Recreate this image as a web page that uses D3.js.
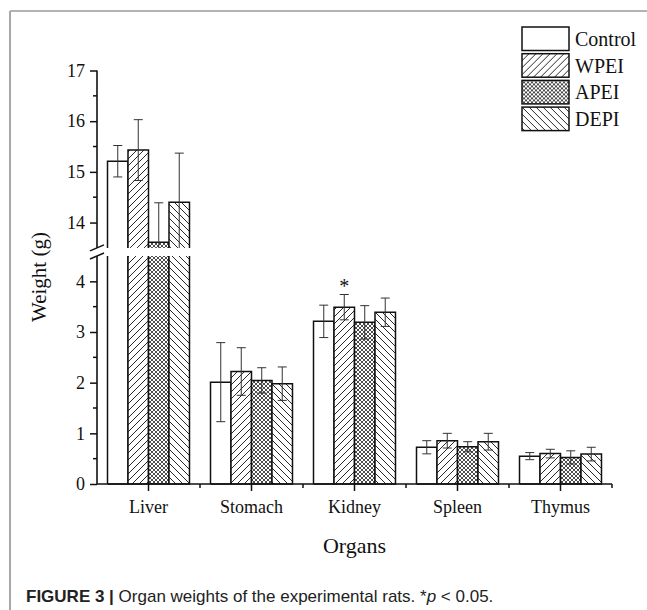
<!DOCTYPE html>
<html>
<head>
<meta charset="utf-8">
<script src="https://cdn.jsdelivr.net/npm/d3@7/dist/d3.min.js"></script>
<style>
  html, body { margin: 0; padding: 0; background: #fff; }
  svg { display: block; }
</style>
</head>
<body>
<svg id="chart" width="647" height="610"></svg>
<script>
// Organ weights (g), mean and SD per treatment group
const organs = ["Liver", "Stomach", "Kidney", "Spleen", "Thymus"];
const groups = ["Control", "WPEI", "APEI", "DEPI"];
const controlMean = [15.21, 2.01, 3.21, 0.725, 0.55];
const controlSD   = [0.31, 0.78, 0.32, 0.13, 0.07];
const wpeiMean    = [15.43, 2.22, 3.49, 0.855, 0.60];
const wpeiSD      = [0.60, 0.47, 0.25, 0.145, 0.085];
const apeiMean    = [13.61, 2.045, 3.19, 0.735, 0.525];
const apeiSD      = [0.78, 0.25, 0.33, 0.10, 0.13];
const depiMean    = [14.40, 1.98, 3.39, 0.835, 0.59];
const depiSD      = [0.97, 0.33, 0.28, 0.165, 0.135];
// significance marks (*p < 0.05): organ and group pairs
const starOrgans = ["Kidney"];
const starGroups = ["WPEI"];
// axis ticks for the two segments of the broken y axis
const upperTicks = [14, 15, 16, 17];
const lowerTicks = [0, 1, 2, 3, 4];
const upperDomain = [13.5, 17];
const lowerDomain = [0, 4.5];

const means = [controlMean, wpeiMean, apeiMean, depiMean];
const sds = [controlSD, wpeiSD, apeiSD, depiSD];
const rows = [];
organs.forEach((o, i) => groups.forEach((g, j) => rows.push({
  organ: o, group: g, mean: means[j][i], sd: sds[j][i]
})));

const svg = d3.select("#chart");
const serif = "'Liberation Serif', 'Times New Roman', serif";
const sans = "'Liberation Sans', Arial, sans-serif";

// page frame
svg.append("line").attr("x1", 10).attr("x2", 647).attr("y1", 11).attr("y2", 11)
  .attr("stroke", "#9a9a9a").attr("stroke-width", 1.5);
svg.append("line").attr("x1", 10).attr("x2", 10).attr("y1", 11).attr("y2", 610)
  .attr("stroke", "#a8a8a8").attr("stroke-width", 2);

// fill patterns
const defs = svg.append("defs");
const hatch = (id, d, size, w) => {
  const p = defs.append("pattern").attr("id", id).attr("patternUnits", "userSpaceOnUse")
    .attr("width", size).attr("height", size);
  p.append("rect").attr("width", size).attr("height", size).attr("fill", "#fff");
  p.append("path").attr("d", d).attr("stroke", "#111").attr("stroke-width", w).attr("fill", "none");
};
hatch("pWPEI", "M0,7 L7,0 M-2,2 L2,-2 M5,9 L9,5", 7, 0.9);
hatch("pDEPI", "M0,0 L7,7 M-2,5 L2,9 M5,-2 L9,2", 7, 0.9);
hatch("pAPEI", "M0,0 L4,4 M0,4 L4,0 M-1,1 L1,-1 M3,5 L5,3 M-1,3 L1,5 M3,-1 L5,1", 4, 0.75);
const fills = { Control: "#fff", WPEI: "url(#pWPEI)", APEI: "url(#pAPEI)", DEPI: "url(#pDEPI)" };

// scales
const x = d3.scaleBand().domain(organs).range([97, 612]).paddingInner(0.204).paddingOuter(0.102);
const xs = d3.scaleBand().domain(groups).range([0, x.bandwidth()]);
const yUp = d3.scaleLinear().domain(upperDomain).range([247.9, 70.5]);
const yLo = d3.scaleLinear().domain(lowerDomain).range([484, 256]);

function drawSegment(y, dom, isBottom) {
  const [lo, hi] = dom;
  const g = svg.append("g");
  rows.filter(d => d.mean > lo).forEach(d => {
    const x0 = x(d.organ) + xs(d.group), x1 = x0 + xs.bandwidth();
    const top = Math.min(d.mean, hi);
    const yt = y(top), yb = y(lo);
    g.append("rect").attr("x", x0).attr("y", yt).attr("width", x1 - x0).attr("height", yb - yt)
      .attr("fill", fills[d.group]);
    let p = `M${x0},${yb} L${x0},${yt}`;
    p += d.mean <= hi ? ` L${x1},${yt}` : ` M${x1},${yt}`;
    p += ` L${x1},${yb}`;
    if (isBottom) p += ` L${x0},${yb}`;
    g.append("path").attr("d", p).attr("fill", "none").attr("stroke", "#111").attr("stroke-width", 1.5);
  });
  // error bars, clipped to this segment
  rows.forEach(d => {
    const a = d.mean - d.sd, b = d.mean + d.sd;
    if (b < lo || a > hi) return;
    const cx = x(d.organ) + xs(d.group) + xs.bandwidth() / 2;
    const ya = y(Math.max(a, lo)), yb = y(Math.min(b, hi));
    g.append("line").attr("x1", cx).attr("x2", cx).attr("y1", ya).attr("y2", yb)
      .attr("stroke", "#333").attr("stroke-width", 1);
    [a, b].filter(v => v >= lo && v <= hi).forEach(v => {
      g.append("line").attr("x1", cx - 4.5).attr("x2", cx + 4.5).attr("y1", y(v)).attr("y2", y(v))
        .attr("stroke", "#333").attr("stroke-width", 1);
    });
  });
}
drawSegment(yUp, upperDomain, false);
drawSegment(yLo, lowerDomain, true);

// significance stars above the error bar
rows.filter(d => starOrgans.some((o, k) => o === d.organ && starGroups[k] === d.group))
  .forEach(d => {
    svg.append("text").attr("x", x(d.organ) + xs(d.group) + xs.bandwidth() / 2)
      .attr("y", yLo(d.mean + d.sd) - 2).attr("text-anchor", "middle")
      .attr("font-family", serif).attr("font-size", 20).attr("fill", "#111").text("*");
  });

// y axis (broken)
const axisX = 97;
function yAxis(y, ticks, dom, y0, y1) {
  const g = svg.append("g").attr("transform", `translate(${axisX},0)`);
  const ax = d3.axisLeft(y).tickValues(ticks).tickSize(7).tickPadding(5).tickFormat(d3.format("d"));
  g.call(ax);
  g.select(".domain").remove();
  g.append("line").attr("x1", 0).attr("x2", 0).attr("y1", y0).attr("y2", y1)
    .attr("stroke", "#111").attr("stroke-width", 1.6);
  g.selectAll(".tick line").attr("stroke", "#111").attr("stroke-width", 1.5);
  g.selectAll(".tick text").attr("font-family", serif).attr("font-size", 18).attr("fill", "#111");
  // half-unit minor ticks
  d3.range(Math.ceil(dom[0]) + 0.5, dom[1], 1).forEach(v => {
    g.append("line").attr("x1", -4).attr("x2", 0).attr("y1", y(v)).attr("y2", y(v))
      .attr("stroke", "#111").attr("stroke-width", 1.5);
  });
}
yAxis(yUp, upperTicks, upperDomain, yUp(17), yUp(13.5));
yAxis(yLo, lowerTicks, lowerDomain, yLo(4.5), yLo(0));

// break marks
[yUp(13.5), yLo(4.5)].forEach(v => {
  svg.append("line").attr("x1", axisX - 7).attr("x2", axisX + 7)
    .attr("y1", v + 3).attr("y2", v - 3).attr("stroke", "#111").attr("stroke-width", 1.5);
});

// x axis
const gx = svg.append("g").attr("transform", `translate(0,${yLo(0)})`);
gx.call(d3.axisBottom(x).tickSize(7).tickPadding(9));
gx.select(".domain").attr("d", `M${axisX},0 H612`).attr("stroke", "#111").attr("stroke-width", 1.6);
gx.selectAll(".tick line").attr("stroke", "#111").attr("stroke-width", 1.5);
gx.selectAll(".tick text").attr("font-family", serif).attr("font-size", 18).attr("fill", "#111");
organs.forEach(o => {
  const bx = x(o) + x.bandwidth() / 2 + x.step() / 2;
  gx.append("line").attr("x1", bx).attr("x2", bx).attr("y1", 0).attr("y2", 4)
    .attr("stroke", "#111").attr("stroke-width", 1.5);
});

// axis titles
svg.append("text").attr("x", x(organs[2]) + x.bandwidth() / 2).attr("y", 553)
  .attr("text-anchor", "middle").attr("font-family", serif).attr("font-size", 22)
  .attr("fill", "#111").text("Organs");
svg.append("text").attr("transform", "translate(46,277) rotate(-90)")
  .attr("text-anchor", "middle").attr("font-family", serif).attr("font-size", 21)
  .attr("fill", "#111").text("Weight (g)");

// legend
const lg = svg.append("g").attr("transform", "translate(522,27)");
groups.forEach((g, i) => {
  const row = lg.append("g").attr("transform", `translate(0,${i * 26.7})`);
  row.append("rect").attr("width", 47).attr("height", 23.5).attr("fill", fills[g])
    .attr("stroke", "#111").attr("stroke-width", 1.5);
  row.append("text").attr("x", 53).attr("y", 19).attr("font-family", serif)
    .attr("font-size", 20).attr("fill", "#111").text(g);
});

// caption
const cap = svg.append("text").attr("x", 26).attr("y", 602).attr("font-family", sans)
  .attr("font-size", 17).attr("fill", "#222");
cap.append("tspan").attr("font-weight", "bold").text("FIGURE 3 | ");
cap.append("tspan").text("Organ weights of the experimental rats. *");
cap.append("tspan").attr("font-style", "italic").text("p");
cap.append("tspan").text(" < 0.05.");
</script>
</body>
</html>
